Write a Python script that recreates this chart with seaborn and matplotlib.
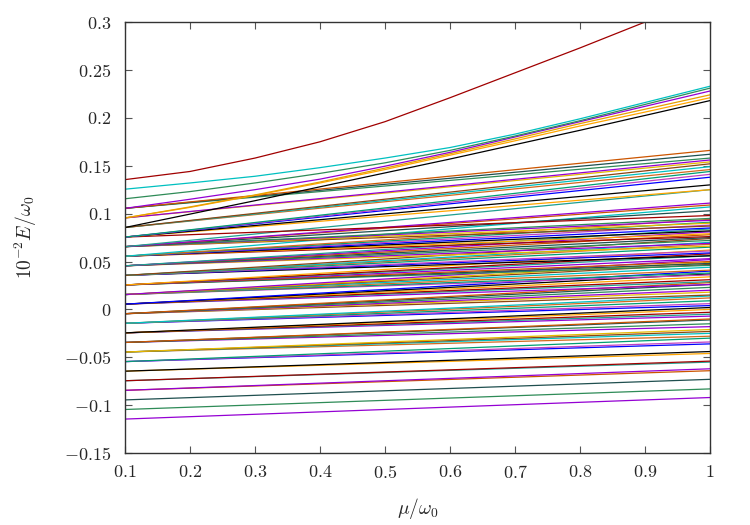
import pandas as pd
import seaborn as sns
import matplotlib.pyplot as plt
from matplotlib.ticker import MultipleLocator, FuncFormatter

# mu/omega_0 grid
mu_grid = [0.1, 0.2, 0.3, 0.4, 0.5, 0.6, 0.7, 0.8, 0.9, 1.0]
mu_ends = [0.1, 1.0]

# straight levels: value at mu=0.1 and the end values at mu=1 of each line
level_start = [-0.1145, -0.1045, -0.0945, -0.0845, -0.0745, -0.0645, -0.0545,
               -0.0445, -0.0345, -0.0245, -0.0145, -0.0045, 0.0055, 0.0155,
               0.0255, 0.0355, 0.0455, 0.0555, 0.0655, 0.0755, 0.0855,
               0.0955, 0.1055]
level_ends = [
    [-0.092],
    [-0.083],
    [-0.073],
    [-0.064, -0.062],
    [-0.055, -0.054],
    [-0.046, -0.044],
    [-0.036, -0.034, -0.030],
    [-0.028, -0.025, -0.023, -0.021],
    [-0.018, -0.015, -0.011, -0.010],
    [-0.007, -0.005, -0.003, 0.000, 0.002],
    [0.004, 0.006, 0.009, 0.012, 0.014],
    [0.015, 0.018, 0.020, 0.023, 0.026, 0.028],
    [0.026, 0.029, 0.031, 0.034, 0.037, 0.040],
    [0.036, 0.038, 0.041, 0.044, 0.047, 0.049, 0.052],
    [0.046, 0.048, 0.050, 0.053, 0.056, 0.058, 0.062],
    [0.056, 0.059, 0.061, 0.065, 0.068, 0.070, 0.074],
    [0.066, 0.069, 0.072, 0.075, 0.078, 0.081, 0.084],
    [0.076, 0.079, 0.082, 0.085, 0.088, 0.091, 0.094, 0.107],
    [0.087, 0.090, 0.093, 0.095, 0.103, 0.109, 0.111, 0.125],
    [0.098, 0.125, 0.130, 0.138, 0.141, 0.144],
    [0.146, 0.149, 0.152],
    [0.154, 0.156],
    [0.158, 0.162, 0.166],
]

# curved upper levels, sampled on mu_grid
curve_black = [0.0855, 0.0995, 0.1135, 0.128, 0.1425, 0.157, 0.172, 0.187, 0.2025, 0.218]
curve_orange2 = [0.0955, 0.1065, 0.119, 0.132, 0.146, 0.161, 0.176, 0.1915, 0.206, 0.221]
curve_orange = [0.0955, 0.107, 0.1195, 0.133, 0.1475, 0.1625, 0.178, 0.194, 0.209, 0.224]
curve_purple = [0.1055, 0.115, 0.125, 0.136, 0.1495, 0.164, 0.180, 0.196, 0.212, 0.228]
curve_green = [0.1155, 0.123, 0.132, 0.142, 0.153, 0.166, 0.181, 0.197, 0.214, 0.231]
curve_cyan = [0.1255, 0.132, 0.139, 0.148, 0.158, 0.169, 0.183, 0.199, 0.216, 0.233]
curve_red = [0.1355, 0.144, 0.158, 0.175, 0.196, 0.221, 0.247, 0.273, 0.300, 0.327]

curves = [curve_black, curve_orange2, curve_orange, curve_purple,
          curve_green, curve_cyan, curve_red]
curve_colors = ['#000000', '#FFA500', '#E69F00', '#9400D3', '#2E8B57', '#00C0C0', '#A00000']

palette_cycle = ['#9400D3', '#2E8B57', '#1F4F4F', '#CC5500', '#9400D3', '#20A090',
                 '#A00000', '#FFA500', '#000000', '#0000FF', '#C040C0', '#009E73',
                 '#D2691E', '#00C0C0', '#8B4513', '#E6B800']

rows = []
colors = {}
n = 0
for s, ends in zip(level_start, level_ends):
    for e in ends:
        for m, v in zip(mu_ends, [s, e]):
            rows.append({'mu': m, 'E': v, 'line': n})
        colors[n] = palette_cycle[n % len(palette_cycle)]
        n += 1
for c, col in zip(curves, curve_colors):
    for m, v in zip(mu_grid, c):
        rows.append({'mu': m, 'E': v, 'line': n})
    colors[n] = col
    n += 1
df = pd.DataFrame(rows)

sns.set_style('ticks')
plt.rcParams['font.family'] = 'serif'
plt.rcParams['font.serif'] = ['cmr10', 'DejaVu Serif']
plt.rcParams['mathtext.fontset'] = 'cm'
plt.rcParams['axes.formatter.use_mathtext'] = True

fig = plt.figure(figsize=(7.5, 5.25), dpi=100)
ax = fig.add_axes([0.1667, 0.137, 0.78, 0.821])

sns.lineplot(data=df, x='mu', y='E', hue='line', palette=colors, units='line',
             estimator=None, sort=False, legend=False, linewidth=0.9, ax=ax)

ax.set_xlim(0.1, 1.0)
ax.set_ylim(-0.15, 0.3)
ax.xaxis.set_major_locator(MultipleLocator(0.1))
ax.yaxis.set_major_locator(MultipleLocator(0.05))
fmt = FuncFormatter(lambda v, _: '$%g$' % round(v, 3))
ax.xaxis.set_major_formatter(fmt)
ax.yaxis.set_major_formatter(fmt)
ax.tick_params(direction='in', top=True, right=True, length=5, width=0.8,
               color='#555555', labelsize=13, pad=8)
ax.tick_params(axis='y', pad=10)
for sp in ax.spines.values():
    sp.set_linewidth(1.0)
    sp.set_color('#333333')

ax.set_xlabel(r'$\mu/\omega_0$', fontsize=14, labelpad=11)
ax.set_ylabel(r'$10^{-2}E/\omega_0$', fontsize=14, labelpad=18)

plt.savefig('out.png', dpi=100)
